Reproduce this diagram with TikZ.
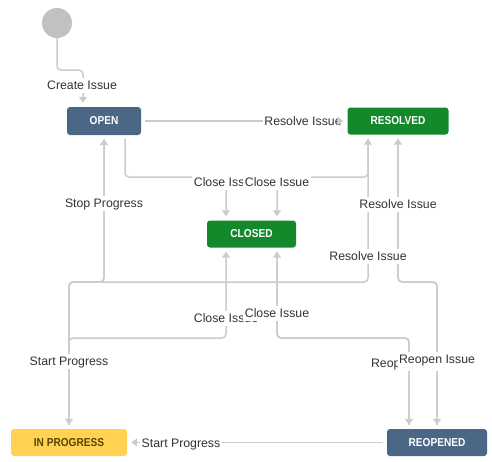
\documentclass[tikz,border=0pt]{standalone}
\usepackage{fontspec}
\setmainfont{Liberation Sans}
\newfontfamily\statefont[FakeStretch=0.88]{Liberation Sans}
\usetikzlibrary{arrows.meta}
\definecolor{jblue}{HTML}{4A6785}
\definecolor{jgreen}{HTML}{14892C}
\definecolor{jyellow}{HTML}{FFD351}
\definecolor{jbrown}{HTML}{594300}
\definecolor{jline}{HTML}{CCCCCC}
\definecolor{jtext}{HTML}{333333}
\definecolor{jstart}{HTML}{C1C1C1}
\begin{document}
\begin{tikzpicture}[x=1pt,y=-1pt,
  statebox/.style={rectangle, rounded corners=3pt, inner sep=0pt, minimum height=27pt,
    font=\fontsize{11.5pt}{13pt}\statefont\bfseries, text=white},
  conn/.style={draw=jline, line width=1.5pt, rounded corners=4pt, shorten <=4pt},
  arr/.style={conn, -{Triangle[width=8pt,length=6pt]}, shorten >=4pt},
  lbl/.style={fill=white, text=jtext, font=\fontsize{12.3pt}{14pt}\selectfont,
    inner xsep=1.5pt, inner ysep=3pt, text height=9pt, text depth=0pt}]
\useasboundingbox[fill=white] (0,0) rectangle (492,461);

% states
\node[circle, fill=jstart, minimum size=30pt, inner sep=0pt] (start) at (57,23) {};
\node[statebox, fill=jblue, minimum width=74pt, minimum height=28pt] (open) at (104,121) {OPEN};
\node[statebox, fill=jgreen, minimum width=101pt] (resolved) at (398,121) {RESOLVED};
\node[statebox, fill=jgreen, minimum width=89pt] (closed) at (251.5,234) {CLOSED};
\node[statebox, fill=jyellow, text=jbrown, minimum width=116pt] (inprogress) at (69,442.5) {IN PROGRESS};
\node[statebox, fill=jblue, minimum width=100pt] (reopened) at (437,442.5) {REOPENED};

% connectors
\draw[arr, shorten <=0pt] (start.south) -- (57,70) -- (83,70) -- (open.north -| 83,0);
\draw[arr] (open.east) -- (resolved.west);
\draw[arr] (open.south -| 125,0) -- (125,177) -- (226,177) -- (closed.north -| 226,0);
\draw[arr] (resolved.south -| 368,0) -- (368,177) -- (277,177) -- (closed.north -| 277,0);
\draw[arr] (open.south) -- (104,282) -- (69,282) -- (inprogress.north);
\draw[arr] (inprogress.north) -- (69,282) -- (104,282) -- (open.south);
\draw[arr] (inprogress.north) -- (69,282) -- (368,282) -- (resolved.south -| 368,0);
\draw[arr] (inprogress.north) -- (69,338) -- (226,338) -- (closed.south -| 226,0);
\draw[arr] (reopened.west) -- (inprogress.east);
\draw[arr] (reopened.north) -- (437,282) -- (398,282) -- (resolved.south);
\draw[arr] (resolved.south) -- (398,282) -- (437,282) -- (reopened.north);
\draw[arr] (reopened.north -| 409,0) -- (409,338) -- (277,338) -- (closed.south -| 277,0);
\draw[arr] (closed.south -| 277,0) -- (277,338) -- (409,338) -- (reopened.north -| 409,0);

% labels
\node[lbl] (lcreate) at (82,85) {Create Issue};
\node[lbl] (lresolve1) at (303,121) {Resolve Issue};
\node[lbl] (lclose1) at (226,182) {Close Issue};
\node[lbl] (lclose2) at (277,182) {Close Issue};
\node[lbl] (lstop) at (104,203) {Stop Progress};
\node[lbl] (lresolve2) at (398,204) {Resolve Issue};
\node[lbl] (lresolve3) at (368,256) {Resolve Issue};
\node[lbl] (lclose3) at (226,318) {Close Issue};
\node[lbl] (lclose4) at (277,313) {Close Issue};
\node[lbl] (lstart1) at (69,361) {Start Progress};
\node[lbl] (lreopen1) at (409,363) {Reopen Issue};
\node[lbl] (lreopen2) at (437,359) {Reopen Issue};
\node[lbl] (lstart2) at (181,443) {Start Progress};

% arrowhead drawn over the Resolve Issue label
\draw[arr, shorten <=0pt] ([xshift=-7pt]resolved.west) -- (resolved.west);
\end{tikzpicture}
\end{document}
